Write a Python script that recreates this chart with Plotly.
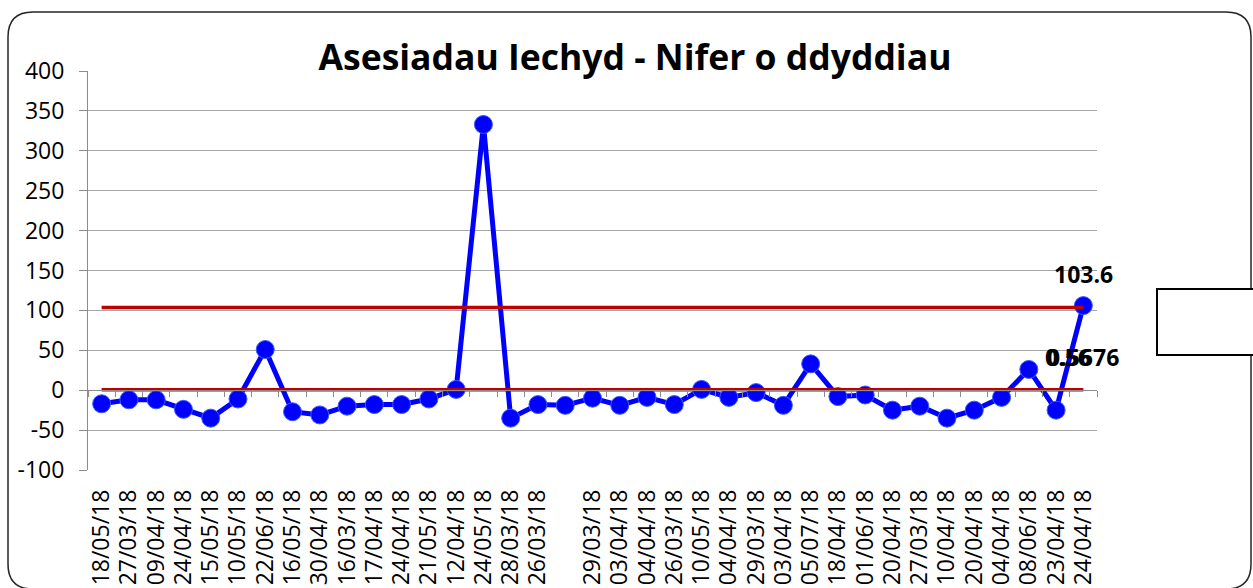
import plotly.graph_objects as go

# ---------------- data ----------------
categories = ["18/05/18", "27/03/18", "09/04/18", "24/04/18", "15/05/18", "10/05/18",
              "22/06/18", "16/05/18", "30/04/18", "16/03/18", "17/04/18", "24/04/18",
              "21/05/18", "12/04/18", "24/05/18", "28/03/18", "26/03/18", "",
              "29/03/18", "03/04/18", "04/04/18", "26/03/18", "10/05/18", "04/04/18",
              "29/03/18", "03/04/18", "05/07/18", "18/04/18", "01/06/18", "20/04/18",
              "27/03/18", "10/04/18", "20/04/18", "04/04/18", "08/06/18", "23/04/18",
              "24/04/18"]
values = [-17, -12, -12, -24, -35, -11, 51, -27, -31, -20, -18, -18, -11, 1, 333,
          -35, -18, -19, -10, -19, -9, -18, 1, -9, -3, -19, 33, -8, -6, -25, -20,
          -35, -25, -9, 26, -25, 106]
upper_limit = 103.6
mean_value = 0.5676
title_text = "Asesiadau Iechyd - Nifer o ddyddiau"
y_ticks = [-100, -50, 0, 50, 100, 150, 200, 250, 300, 350, 400]
y_tick_labels = [str(v) for v in y_ticks]

# ---------------- geometry ----------------
W, H = 1253, 588
ML, MR, MT, MB = 88, 156, 71, 118
PW, PH = W - ML - MR, H - MT - MB


def px_x(p):
    return (p - ML) / PW


def px_y(p):
    return (H - MB - p) / PH


n = len(categories)
xs = list(range(n))
ymin, ymax = y_ticks[0], y_ticks[-1]

FONT = "Open Sans"
GRID = "#A6A6A6"
AXIS = "#8C8C8C"
BLUE = "#0000FF"
RED = "#C00000"

fig = go.Figure()

fig.add_trace(go.Scatter(
    x=xs, y=values, mode="lines+markers",
    line=dict(color=BLUE, width=5),
    marker=dict(size=18, color=BLUE, line=dict(color="#3A5BFF", width=1)),
    showlegend=False, hoverinfo="skip"))

fig.add_trace(go.Scatter(
    x=xs, y=[upper_limit] * n, mode="lines",
    line=dict(color=RED, width=3.5), showlegend=False, hoverinfo="skip"))

fig.add_trace(go.Scatter(
    x=xs, y=[mean_value] * n, mode="lines",
    line=dict(color=RED, width=3.5), showlegend=False, hoverinfo="skip"))

# helper trace to carry the axis drawn through zero
fig.add_trace(go.Scatter(
    x=xs, y=[None] * n, xaxis="x2", mode="lines",
    showlegend=False, hoverinfo="skip"))

label_font = dict(family=FONT, size=23, color="#000000", weight="bold")
fig.add_annotation(x=n - 1, y=upper_limit, text=f"{upper_limit:g}", showarrow=False,
                   yshift=34, font=label_font)
fig.add_annotation(x=n - 1, y=mean_value, text="0.56", showarrow=False,
                   xanchor="left", xshift=-40, yshift=33, font=label_font)
fig.add_annotation(x=n - 1, y=mean_value, text=f"{mean_value:g}", showarrow=False,
                   xanchor="right", xshift=38, yshift=33, font=label_font)

# chart border with rounded corners
L, R, T, B = px_x(8), px_x(1251), px_y(12), px_y(589)
rx, ry = 25 / PW, 25 / PH
path = (f"M {L + rx},{T} L {R - rx},{T} Q {R},{T} {R},{T - ry} "
        f"L {R},{B + ry} Q {R},{B} {R - rx},{B} "
        f"L {L + rx},{B} Q {L},{B} {L},{B + ry} "
        f"L {L},{T - ry} Q {L},{T} {L + rx},{T} Z")
fig.add_shape(type="path", path=path, xref="paper", yref="paper",
              line=dict(color="#262626", width=1.5), layer="below")

# empty legend box
fig.add_shape(type="rect", xref="paper", yref="paper",
              x0=px_x(1157), x1=px_x(1265), y0=px_y(355), y1=px_y(289),
              line=dict(color="#000000", width=2), fillcolor="white")

fig.update_layout(
    width=W, height=H, autosize=False,
    margin=dict(l=ML, r=MR, t=MT, b=MB, pad=0, autoexpand=False),
    paper_bgcolor="white", plot_bgcolor="white",
    font=dict(family=FONT, color="#000000"),
    title=dict(text=title_text, x=635 / W, xanchor="center", xref="container",
               y=1 - 58 / H, yanchor="middle", yref="container",
               font=dict(family=FONT, size=35.5, color="#000000", weight="bold")),
    xaxis=dict(range=[-0.5, n - 0.5], tickmode="array", tickvals=xs, ticktext=categories,
               tickangle=-90, showgrid=False, showline=False, ticks="", zeroline=False,
               tickfont=dict(family=FONT, size=23, color="#000000"),
               ticklabelstandoff=14, automargin=False),
    xaxis2=dict(overlaying="x", anchor="free", position=(0 - ymin) / (ymax - ymin),
                range=[-0.5, n - 0.5], tickmode="linear", tick0=-0.5, dtick=1,
                ticks="outside", ticklen=6, tickcolor=AXIS, tickwidth=1,
                showline=True, linecolor=AXIS, linewidth=1, automargin=False,
                showticklabels=False, showgrid=False, zeroline=False),
    yaxis=dict(range=[ymin, ymax], tickmode="array", tickvals=y_ticks,
               ticktext=y_tick_labels, automargin=False,
               showgrid=True, gridcolor=GRID, gridwidth=1,
               showline=True, linecolor=AXIS, linewidth=1,
               ticks="outside", ticklen=8, tickcolor=AXIS,
               zeroline=False, tickfont=dict(family=FONT, size=23, color="#000000"),
               ticklabelstandoff=10),
)

fig.write_html("out.html",
               config={"responsive": False, "displayModeBar": False},
               post_script="document.body.style.margin='0';"
                           "document.body.style.overflow='hidden';")
